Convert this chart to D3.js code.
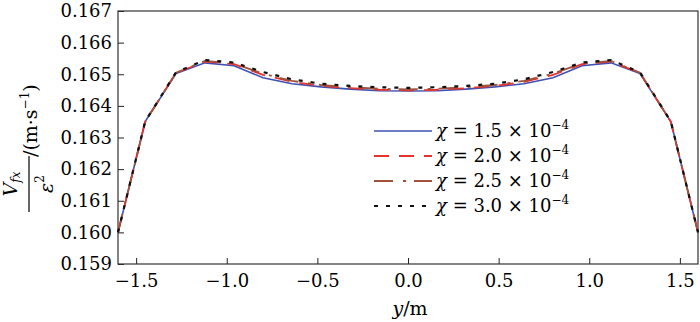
<!DOCTYPE html>
<html><head><meta charset="utf-8">
<script src="https://cdn.jsdelivr.net/npm/d3@7"></script>
<style>
html,body{margin:0;padding:0;background:#fff;}
svg{display:block;}
text{font-family:"DejaVu Serif",serif;fill:#000;}
</style></head>
<body>
<svg id="chart" width="700" height="322"></svg>
<script>
// Data
const yPos = [-1.6, -1.45, -1.28, -1.12, -0.96, -0.8, -0.64, -0.48, -0.32, -0.16, 0, 0.16, 0.32, 0.48, 0.64, 0.8, 0.96, 1.12, 1.28, 1.45, 1.6];
const v15 = [0.16000, 0.16350, 0.16502, 0.16536, 0.16527, 0.16489, 0.16470, 0.16460, 0.16453, 0.16448, 0.16447, 0.16448, 0.16453, 0.16460, 0.16470, 0.16489, 0.16527, 0.16536, 0.16502, 0.16350, 0.16000];
const v20 = [0.16000, 0.16350, 0.16504, 0.16540, 0.16532, 0.16498, 0.16476, 0.16463, 0.16456, 0.16451, 0.16449, 0.16451, 0.16456, 0.16463, 0.16476, 0.16498, 0.16532, 0.16540, 0.16504, 0.16350, 0.16000];
const v25 = [0.16000, 0.16350, 0.16505, 0.16542, 0.16534, 0.16502, 0.16479, 0.16466, 0.16459, 0.16454, 0.16452, 0.16454, 0.16459, 0.16466, 0.16479, 0.16502, 0.16534, 0.16542, 0.16505, 0.16350, 0.16000];
const v30 = [0.16000, 0.16351, 0.16506, 0.16545, 0.16537, 0.16507, 0.16484, 0.16470, 0.16463, 0.16459, 0.16457, 0.16459, 0.16463, 0.16470, 0.16484, 0.16507, 0.16537, 0.16545, 0.16506, 0.16351, 0.16000];
const seriesNames = ["1.5", "2.0", "2.5", "3.0"];
const xTicks = [-1.5, -1.0, -0.5, 0.0, 0.5, 1.0, 1.5];
const yTicks = [0.159, 0.160, 0.161, 0.162, 0.163, 0.164, 0.165, 0.166, 0.167];

const series = [
  {name: seriesNames[0], values: v15, color: "#3f51b5", dash: null, w: 1.6},
  {name: seriesNames[1], values: v20, color: "#e8322b", dash: "15,10", w: 1.8},
  {name: seriesNames[2], values: v25, color: "#a0523a", dash: "19,10,3,8", w: 1.8},
  {name: seriesNames[3], values: v30, color: "#111111", dash: "4,8", w: 2.2}
];

const svg = d3.select("#chart");
const m = {left: 118, right: 2, top: 11, bottom: 58};
const W = 700, H = 322;
const x = d3.scaleLinear().domain([-1.6, 1.6]).range([m.left, W - m.right]);
const y = d3.scaleLinear().domain([0.159, 0.167]).range([H - m.bottom, m.top]);

// axes
const xAxis = d3.axisBottom(x).tickValues(xTicks).tickFormat(d3.format(".1f")).tickSizeInner(-6).tickSizeOuter(0).tickPadding(10);
const yAxis = d3.axisLeft(y).tickValues(yTicks).tickFormat(d3.format(".3f")).tickSizeInner(-6).tickSizeOuter(0).tickPadding(6);

const gx = svg.append("g").attr("transform", `translate(0,${H - m.bottom})`).call(xAxis);
const gy = svg.append("g").attr("transform", `translate(${m.left},0)`).call(yAxis);
[gx, gy].forEach(g => {
  g.select(".domain").remove();
  g.selectAll(".tick line").attr("stroke", "#222").attr("stroke-width", 1);
  g.selectAll(".tick text").style("font-family", "'DejaVu Serif', serif").style("font-size", "18px").attr("fill", "#000");
});

// frame
svg.append("rect").attr("x", m.left).attr("y", m.top)
  .attr("width", W - m.left - m.right).attr("height", H - m.top - m.bottom)
  .attr("fill", "none").attr("stroke", "#333").attr("stroke-width", 1.2);

// lines
const line = d3.line().x((d, i) => x(yPos[i])).y(d => y(d));
const plot = svg.append("g");
series.forEach(s => {
  plot.append("path").datum(s.values).attr("d", line)
    .attr("fill", "none").attr("stroke", s.color).attr("stroke-width", s.w)
    .attr("stroke-dasharray", s.dash);
});

// legend
const leg = svg.append("g").attr("transform", "translate(374,131)");
series.forEach((s, i) => {
  const g = leg.append("g").attr("transform", `translate(0,${i * 25})`);
  g.append("line").attr("x1", 0).attr("x2", 58).attr("y1", 0).attr("y2", 0)
    .attr("stroke", s.color).attr("stroke-width", s.w).attr("stroke-dasharray", s.dash);
  const t = g.append("text").attr("x", 62).attr("y", 6).style("font-size", "18px");
  t.append("tspan").attr("font-style", "italic").text("χ");
  t.append("tspan").text(" = " + s.name + " × 10");
  t.append("tspan").attr("dy", -8).style("font-size", "12px").text("−4");
});

// y label (rotated fraction)
const yl = svg.append("g").attr("transform", "translate(0,138) rotate(-90)");
const num = yl.append("text").attr("x", -46).attr("y", 17).attr("text-anchor", "middle").style("font-size", "19px");
num.append("tspan").attr("font-style", "italic").text("V");
num.append("tspan").attr("font-style", "italic").attr("dy", 3).style("font-size", "12px").text("fx");
yl.append("line").attr("x1", -74).attr("x2", -18).attr("y1", 29).attr("y2", 29).attr("stroke", "#000").attr("stroke-width", 1.2);
const den = yl.append("text").attr("x", -46).attr("y", 53).attr("text-anchor", "middle").style("font-size", "19px");
den.append("tspan").attr("font-style", "italic").text("ε");
den.append("tspan").attr("dy", -9).style("font-size", "12px").text("2");
const unit = yl.append("text").attr("x", -19).attr("y", 37).style("font-size", "19px");
unit.append("tspan").text("/(m·s");
unit.append("tspan").attr("dy", -8).style("font-size", "12px").text("−1");
unit.append("tspan").attr("dy", 8).text(")");

// x label
const xl = svg.append("text").attr("x", 410).attr("y", 315).attr("text-anchor", "middle").style("font-size", "19px");
xl.append("tspan").attr("font-style", "italic").text("y");
xl.append("tspan").text("/m");
</script>
</body></html>
